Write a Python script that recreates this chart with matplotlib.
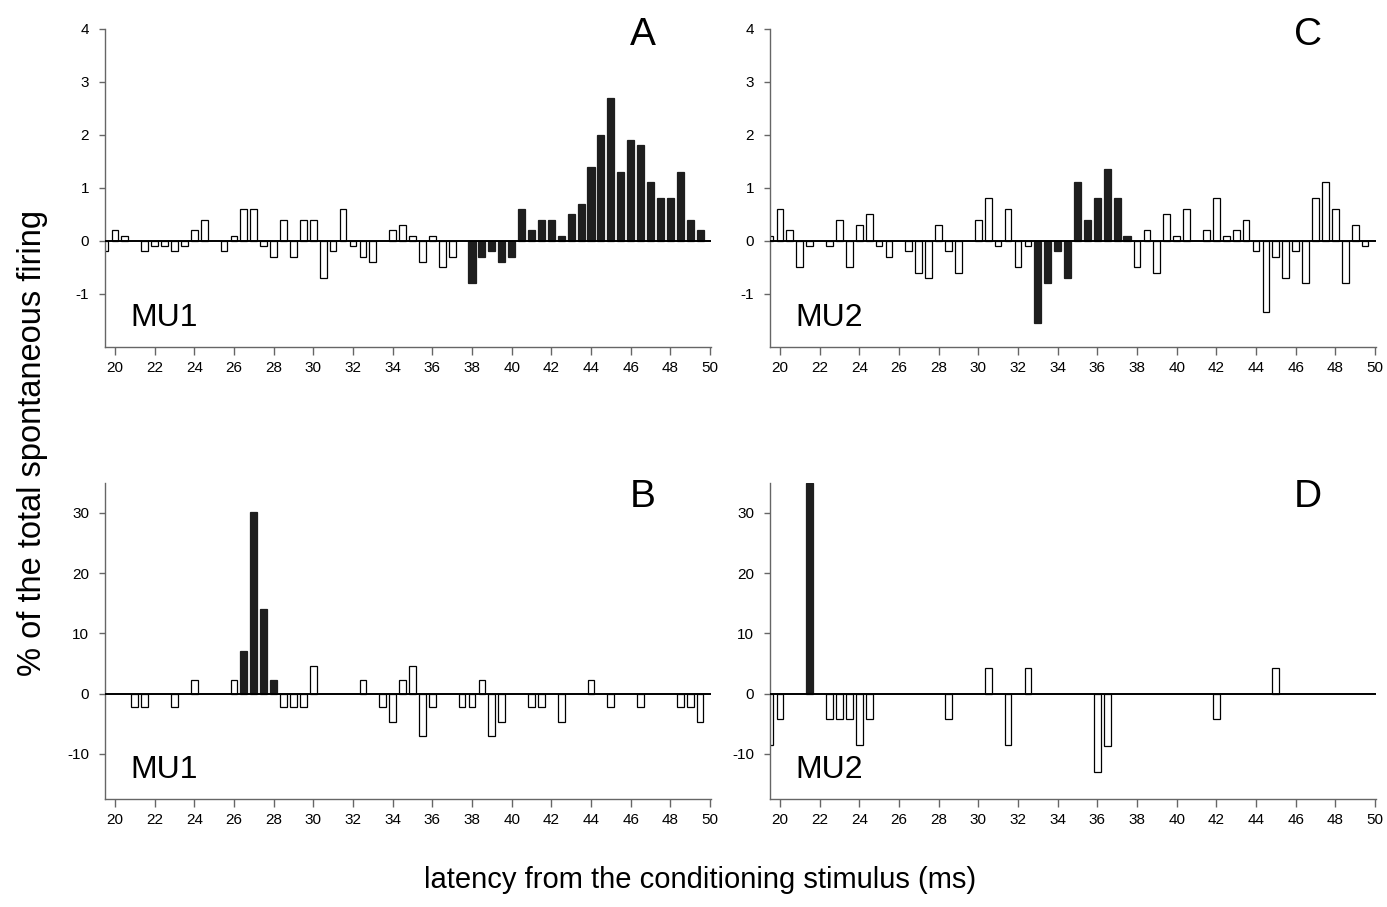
import numpy as np
import matplotlib
matplotlib.use("Agg")
import matplotlib.pyplot as plt

plt.rcParams['font.family'] = ['Liberation Sans', 'DejaVu Sans']
plt.rcParams['axes.unicode_minus'] = False

# bins of 0.5 ms, 19.5 .. 49.5
bins = np.arange(19.5, 49.51, 0.5)

# panel A (MU1, top)
a_vals = [-0.2, 0.2, 0.1, 0, -0.2, -0.1, -0.1, -0.2, -0.1, 0.2,
          0.4, 0, -0.2, 0.1, 0.6, 0.6, -0.1, -0.3, 0.4, -0.3,
          0.4, 0.4, -0.7, -0.2, 0.6, -0.1, -0.3, -0.4, 0, 0.2,
          0.3, 0.1, -0.4, 0.1, -0.5, -0.3, 0, -0.8, -0.3, -0.2,
          -0.4, -0.3, 0.6, 0.2, 0.4, 0.4, 0.1, 0.5, 0.7, 1.4,
          2.0, 2.7, 1.3, 1.9, 1.8, 1.1, 0.8, 0.8, 1.3, 0.4, 0.2]
a_filled = (38.0, 49.5)

# panel C (MU2, top)
c_vals = [0.1, 0.6, 0.2, -0.5, -0.1, 0, -0.1, 0.4, -0.5, 0.3,
          0.5, -0.1, -0.3, 0, -0.2, -0.6, -0.7, 0.3, -0.2, -0.6,
          0, 0.4, 0.8, -0.1, 0.6, -0.5, -0.1, -1.55, -0.8, -0.2,
          -0.7, 1.1, 0.4, 0.8, 1.35, 0.8, 0.1, -0.5, 0.2, -0.6,
          0.5, 0.1, 0.6, 0, 0.2, 0.8, 0.1, 0.2, 0.4, -0.2,
          -1.35, -0.3, -0.7, -0.2, -0.8, 0.8, 1.1, 0.6, -0.8, 0.3, -0.1]
c_filled = (33.0, 37.5)

# panel B (MU1, bottom) - only non-empty bins
b_pos = [21.0, 21.5, 23.0, 24.0, 26.0, 26.5, 27.0, 27.5, 28.0, 28.5,
         29.0, 29.5, 30.0, 32.5, 33.5, 34.0, 34.5, 35.0, 35.5, 36.0,
         37.5, 38.0, 38.5, 39.0, 39.5, 41.0, 41.5, 42.5, 44.0, 45.0,
         46.5, 48.5, 49.0, 49.5]
b_vals = [-2.3, -2.3, -2.3, 2.3, 2.3, 7.0, 30.2, 14.0, 2.3, -2.3,
          -2.3, -2.3, 4.6, 2.3, -2.3, -4.7, 2.3, 4.6, -7.0, -2.3,
          -2.3, -2.3, 2.3, -7.0, -4.7, -2.3, -2.3, -4.7, 2.3, -2.3,
          -2.3, -2.3, -2.3, -4.7]
b_filled = (26.5, 28.0)

# panel D (MU2, bottom)
d_pos = [19.5, 20.0, 21.5, 22.5, 23.0, 23.5, 24.0, 24.5, 28.5, 30.5,
         31.5, 32.5, 36.0, 36.5, 42.0, 45.0]
d_vals = [-8.6, -4.3, 35.0, -4.3, -4.3, -4.3, -8.6, -4.3, -4.3, 4.3,
          -8.6, 4.3, -13.0, -8.7, -4.3, 4.3]
d_filled = (21.5, 21.5)

W, H = 1387, 907
fig = plt.figure(figsize=(W / 100, H / 100), dpi=100)


def px_axes(left, right, top, bottom):
    return fig.add_axes([left / W, 1 - bottom / H, (right - left) / W, (bottom - top) / H])


def draw(ax, pos, vals, filled, ylim, yticks, unit):
    pos = np.asarray(pos)
    vals = np.asarray(vals)
    is_f = (pos >= filled[0]) & (pos <= filled[1])
    nz = vals != 0
    ax.bar(pos[nz & ~is_f], vals[nz & ~is_f], width=0.34, color='white',
           edgecolor='black', linewidth=0.9, zorder=2)
    ax.bar(pos[nz & is_f], vals[nz & is_f], width=0.36, color='#1e1e1e',
           edgecolor='#1e1e1e', linewidth=0.9, zorder=2)
    ax.axhline(0, color='black', linewidth=1.4, zorder=3)
    ax.set_xlim(19.5, 50.05)
    ax.set_ylim(*ylim)
    ax.set_xticks(np.arange(20, 51, 2))
    ax.set_yticks(yticks)
    for s in ('top', 'right'):
        ax.spines[s].set_visible(False)
    for s in ('left', 'bottom'):
        ax.spines[s].set_color('#666666')
        ax.spines[s].set_linewidth(1.0)
    ax.tick_params(axis='x', direction='out', length=6, width=1, color='#666666',
                   labelsize=11, pad=4)
    ax.tick_params(axis='y', direction='out', length=4.5, width=1, color='#666666',
                   labelsize=11, pad=7)
    ax.text(0.042, 0.045, unit, transform=ax.transAxes, fontsize=23,
            ha='left', va='bottom')


axA = px_axes(105, 711, 28.5, 347)
axB = px_axes(105, 711, 482.7, 799)
axC = px_axes(770, 1376, 28.5, 347)
axD = px_axes(770, 1376, 482.7, 799)

draw(axA, bins, a_vals, a_filled, (-2, 4), [-1, 0, 1, 2, 3, 4], 'MU1')
draw(axC, bins, c_vals, c_filled, (-2, 4), [-1, 0, 1, 2, 3, 4], 'MU2')
draw(axB, b_pos, b_vals, b_filled, (-17.5, 35), [-10, 0, 10, 20, 30], 'MU1')
draw(axD, d_pos, d_vals, d_filled, (-17.5, 35), [-10, 0, 10, 20, 30], 'MU2')

for letter, x, y in [('A', 643, 35), ('C', 1308, 35), ('B', 643, 497), ('D', 1308, 497)]:
    fig.text(x / W, 1 - y / H, letter, fontsize=28, ha='center', va='center')

fig.text(33 / W, 1 - 443 / H, '% of the total spontaneous firing', rotation=90,
         fontsize=23.5, ha='center', va='center')
fig.text(700 / W, 1 - 880 / H, 'latency from the conditioning stimulus (ms)',
         fontsize=21, ha='center', va='center')

fig.savefig('out.png', dpi=100)
